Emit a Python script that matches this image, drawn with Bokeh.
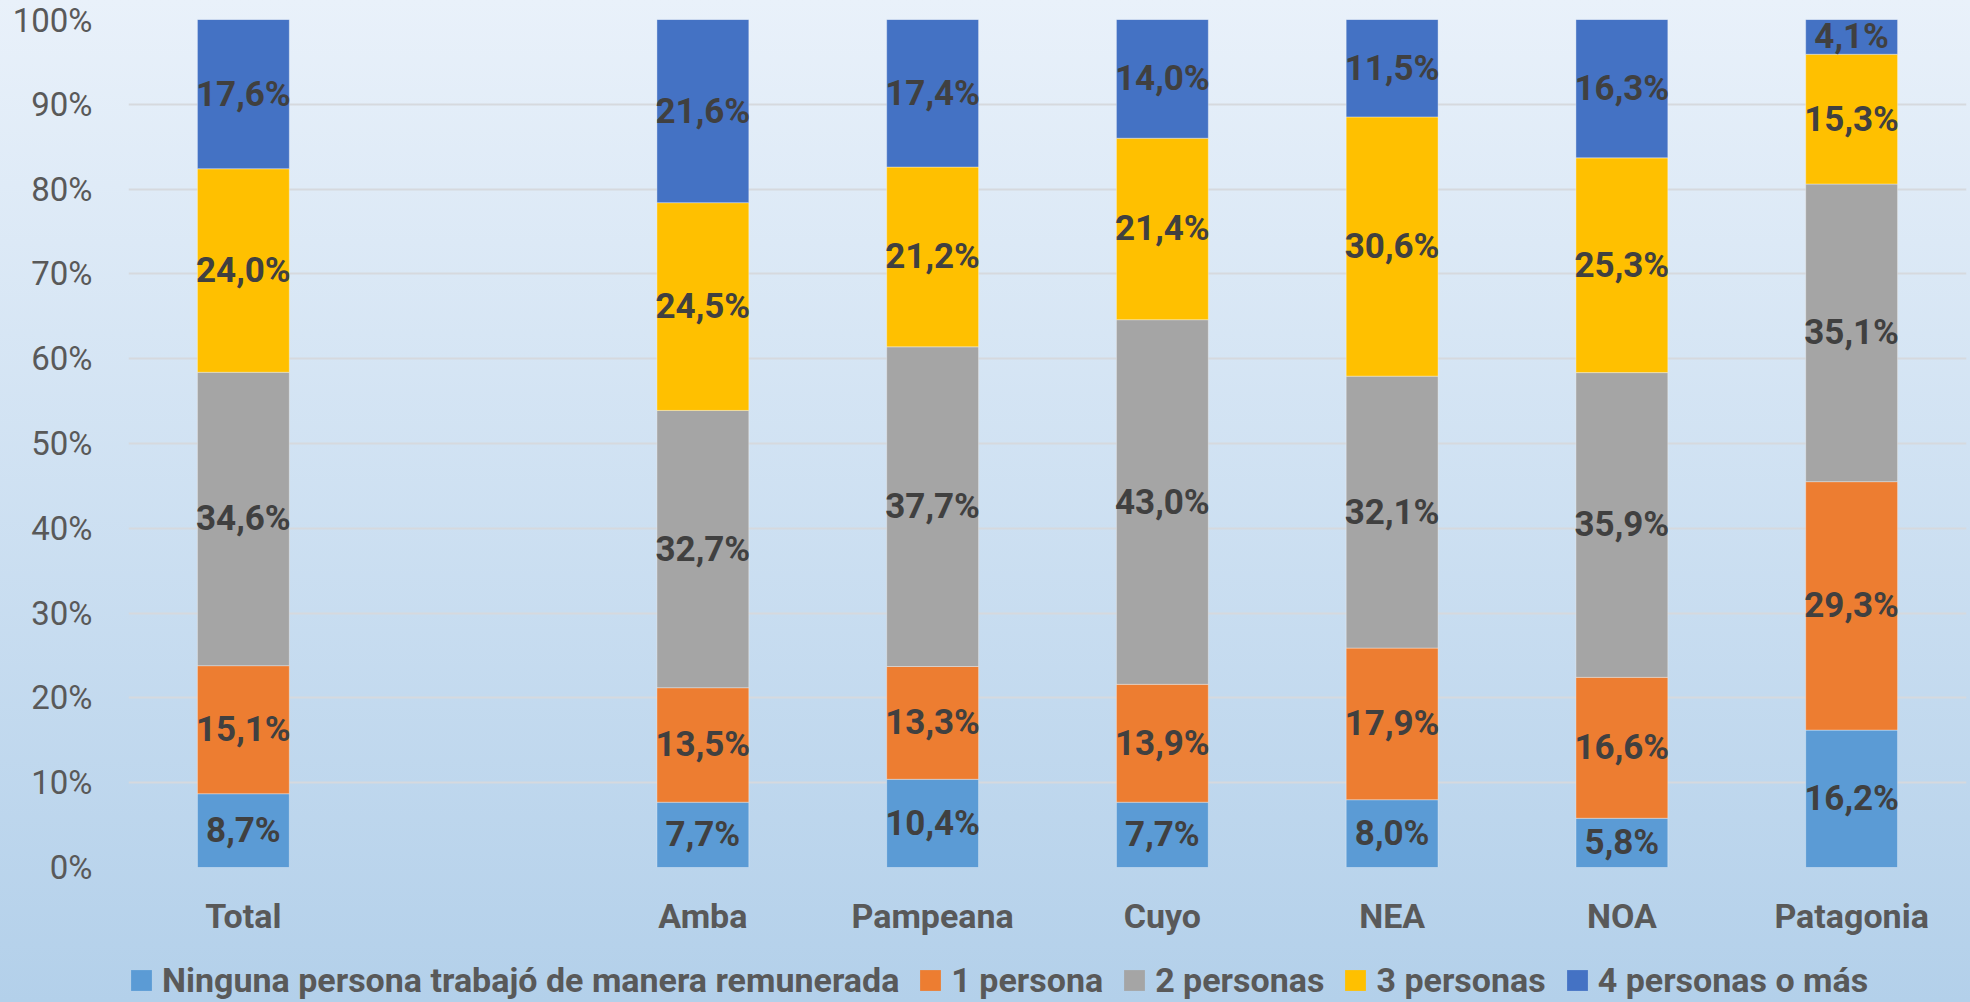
from bokeh.plotting import figure
from bokeh.layouts import column
from bokeh.models import (FactorRange, Range1d, FixedTicker, NumeralTickFormatter, ColumnDataSource,
                          Legend, LegendItem, LabelSet)
from bokeh.core.properties import value
from bokeh.embed import file_html
from bokeh.resources import INLINE

categories = ["Total", "Amba", "Pampeana", "Cuyo", "NEA", "NOA", "Patagonia"]
series = ["Ninguna persona trabajó de manera remunerada", "1 persona", "2 personas", "3 personas", "4 personas o más"]
ninguna = [8.7, 7.7, 10.4, 7.7, 8.0, 5.8, 16.2]
una = [15.1, 13.5, 13.3, 13.9, 17.9, 16.6, 29.3]
dos = [34.6, 32.7, 37.7, 43.0, 32.1, 35.9, 35.1]
tres = [24.0, 24.5, 21.2, 21.4, 30.6, 25.3, 15.3]
cuatro = [17.6, 21.6, 17.4, 14.0, 11.5, 16.3, 4.1]
colors = ["#5b9bd5", "#ed7d31", "#a5a5a5", "#ffc000", "#4472c4"]
y_ticks = [0, 0.1, 0.2, 0.3, 0.4, 0.5, 0.6, 0.7, 0.8, 0.9, 1.0]

FONT = "Roboto"

vals = [ninguna, una, dos, tres, cuatro]
keys = ["s0", "s1", "s2", "s3", "s4"]
totals = [sum(v[i] for v in vals) for i in range(len(categories))]
data = {"cat": categories}
for k, v in zip(keys, vals):
    data[k] = [v[i] / totals[i] for i in range(len(categories))]
src = ColumnDataSource(data)

factors = [categories[0], " "] + categories[1:]

p = figure(width=1970, height=950, x_range=FactorRange(factors=factors, range_padding=0),
           y_range=Range1d(0, 1), output_backend="svg", toolbar_location=None,
           min_border_left=128, min_border_right=4, min_border_top=19, min_border_bottom=83)
p.background_fill_color = None
p.border_fill_color = None
p.outline_line_color = None

rs = p.vbar_stack(keys, x="cat", width=0.4, source=src, color=colors,
                  line_color="#ffffff", line_alpha=0.35, line_width=1)

# labels
lx, ly, lt = [], [], []
for i, c in enumerate(categories):
    base = 0.0
    for k, v in zip(keys, vals):
        h = data[k][i]
        lx.append(c)
        ly.append(base + h / 2)
        lt.append(f"{v[i]:.1f}".replace(".", ",") + "%")
        base += h
lsrc = ColumnDataSource(dict(x=lx, y=ly, t=lt))
labels = LabelSet(x="x", y="y", text="t", source=lsrc, text_align="center", text_baseline="middle",
                  text_font=value(FONT), text_font_style="bold", text_font_size="35px", text_color="#404040")
p.add_layout(labels)

p.ygrid.grid_line_color = "#d6d9de"
p.ygrid.grid_line_width = 2
p.xgrid.grid_line_color = None
p.yaxis.ticker = FixedTicker(ticks=y_ticks)
p.yaxis.formatter = NumeralTickFormatter(format="0%")
for ax in (p.xaxis[0], p.yaxis[0]):
    ax.axis_line_color = None
    ax.major_tick_line_color = None
    ax.minor_tick_line_color = None
    ax.major_label_text_color = "#595959"
    ax.major_label_text_font = FONT
p.yaxis.major_label_text_font_size = "33px"
p.yaxis.major_label_standoff = 30
p.xaxis.major_label_text_font_size = "34px"
p.xaxis.major_label_text_font_style = "bold"
p.xaxis.major_label_standoff = 22

# legend strip
lg = figure(width=1970, height=52, x_range=Range1d(0, 1), y_range=Range1d(0, 1),
            output_backend="svg", toolbar_location=None, x_axis_location=None, y_axis_location=None,
            min_border_left=128, min_border_right=4, min_border_top=0, min_border_bottom=0)
lg.background_fill_color = None
lg.border_fill_color = None
lg.outline_line_color = None
lg.grid.visible = False
dummy = ColumnDataSource(dict(x=[0.5], top=[0]))
lrs = [lg.vbar(x="x", top="top", width=0.01, source=dummy, fill_color=c, line_color=None) for c in colors]
legend = Legend(items=[LegendItem(label=s, renderers=[r]) for s, r in zip(series, lrs)],
                orientation="horizontal", location=(0, 2),
                label_text_font=FONT, label_text_font_size="34px", label_text_font_style="bold",
                label_text_color="#595959", glyph_width=26, glyph_height=26,
                label_standoff=8, spacing=18, background_fill_alpha=0, border_line_alpha=0,
                margin=0, padding=0)
lg.add_layout(legend, "center")

page = column(p, lg, spacing=0,
              styles={"background": "linear-gradient(to bottom, #e9f1fa 0%, #b3d0ea 100%)"})

open("out.html", "w").write(file_html(page, INLINE))
